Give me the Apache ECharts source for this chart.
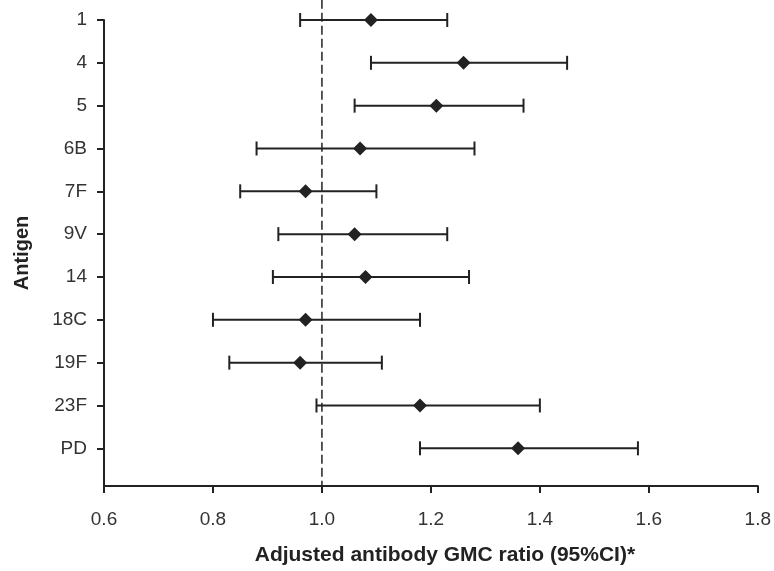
<!DOCTYPE html>
<html>
<head>
    <meta charset="utf-8">
    <title>Adjusted antibody GMC ratio</title>
    <script src="https://cdn.jsdelivr.net/npm/echarts@6/dist/echarts.min.js"></script>
</head>
<body style="margin:0">
    <div id="main" style="width: 774px;height:571px;"></div>
    <script>
        var antigens = ['1', '4', '5', '6B', '7F', '9V', '14', '18C', '19F', '23F', 'PD'];
        var gmcRatio = [1.09, 1.26, 1.21, 1.07, 0.97, 1.06, 1.08, 0.97, 0.96, 1.18, 1.36];
        var ciLower = [0.96, 1.09, 1.06, 0.88, 0.85, 0.92, 0.91, 0.80, 0.83, 0.99, 1.18];
        var ciUpper = [1.23, 1.45, 1.37, 1.28, 1.10, 1.23, 1.27, 1.18, 1.11, 1.40, 1.58];
        var xTicks = [0.6, 0.8, 1.0, 1.2, 1.4, 1.6, 1.8];
        var refValue = 1.0;

        var myChart = echarts.init(document.getElementById('main'));
        var font = "'Liberation Sans', Arial, sans-serif";
        var ink = '#222';
        var yMax = antigens.length - 1 + 0.88;

        var idx = antigens.map(function (a, i) { return i; });
        var points = gmcRatio.map(function (v, i) { return [v, i]; });
        var bars = idx.map(function (i) { return [ciLower[i], ciUpper[i], i]; });

        var option = {
            animation: false,
            grid: { left: 104, right: 16, top: 20, bottom: 84 },
            xAxis: {
                type: 'value',
                min: xTicks[0],
                max: xTicks[xTicks.length - 1],
                interval: 0.2,
                name: 'Adjusted antibody GMC ratio (95%CI)*',
                nameLocation: 'middle',
                nameGap: 59,
                nameTextStyle: { fontFamily: font, fontSize: 21, fontWeight: 'bold', color: ink, padding: [0, 0, 0, 28] },
                axisLine: { onZero: false, lineStyle: { color: ink, width: 2 } },
                axisTick: { length: 7, lineStyle: { color: ink, width: 2 } },
                axisLabel: {
                    fontFamily: font, fontSize: 19, color: '#333', margin: 24,
                    formatter: function (v) { return v.toFixed(1); }
                },
                splitLine: { show: false }
            },
            yAxis: {
                type: 'value',
                inverse: true,
                min: 0,
                max: yMax,
                name: 'Antigen',
                nameLocation: 'middle',
                nameGap: 72,
                nameTextStyle: { fontFamily: font, fontSize: 20, fontWeight: 'bold', color: ink },
                axisLine: { show: true, onZero: false, lineStyle: { color: ink, width: 2 } },
                axisTick: { show: true, length: 7, customValues: idx, lineStyle: { color: ink, width: 2 } },
                axisLabel: {
                    customValues: idx, fontFamily: font, fontSize: 19, color: '#333', margin: 17,
                    formatter: function (v) { return antigens[v]; }
                },
                splitLine: { show: false }
            },
            series: [
                {
                    // dashed reference line at ratio 1.0
                    type: 'custom',
                    data: [[refValue]],
                    clip: false,
                    silent: true,
                    renderItem: function (params, api) {
                        var top = api.coord([api.value(0), -0.47]);
                        var bottom = api.coord([api.value(0), yMax]);
                        return {
                            type: 'line',
                            shape: { x1: top[0], y1: top[1], x2: bottom[0], y2: bottom[1] },
                            style: { stroke: ink, lineWidth: 1.5, lineDash: [9, 4] }
                        };
                    },
                    z: 1
                },
                {
                    type: 'custom',
                    data: bars,
                    renderItem: function (params, api) {
                        var y = api.value(2);
                        var p1 = api.coord([api.value(0), y]);
                        var p2 = api.coord([api.value(1), y]);
                        var h = 7;
                        var st = { stroke: ink, lineWidth: 2 };
                        return {
                            type: 'group',
                            children: [
                                { type: 'line', shape: { x1: p1[0], y1: p1[1], x2: p2[0], y2: p2[1] }, style: st },
                                { type: 'line', shape: { x1: p1[0], y1: p1[1] - h, x2: p1[0], y2: p1[1] + h }, style: st },
                                { type: 'line', shape: { x1: p2[0], y1: p2[1] - h, x2: p2[0], y2: p2[1] + h }, style: st }
                            ]
                        };
                    },
                    z: 2
                },
                {
                    type: 'scatter',
                    data: points,
                    symbol: 'diamond',
                    symbolSize: [14, 14],
                    itemStyle: { color: ink, opacity: 1 },
                    z: 3
                }
            ]
        };
        myChart.setOption(option);
    </script>
</body>
</html>
